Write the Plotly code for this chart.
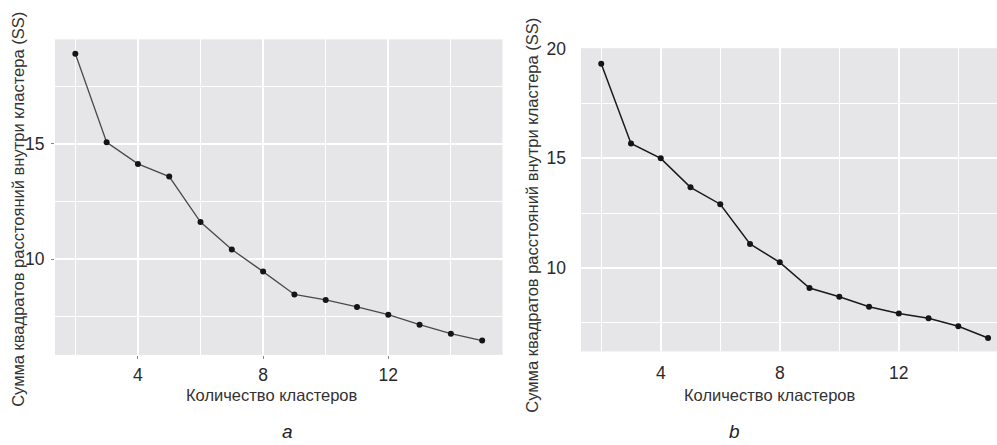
import plotly.graph_objects as go

clusters = list(range(2, 16))
ss_a = [18.91, 15.07, 14.13, 13.58, 11.61, 10.42, 9.46, 8.47, 8.23, 7.93, 7.59, 7.16, 6.77, 6.47]
ss_b = [19.31, 15.68, 15.00, 13.68, 12.91, 11.10, 10.26, 9.09, 8.69, 8.24, 7.93, 7.71, 7.35, 6.81]

x_ticks = [4, 8, 12]
x_minor = [2, 6, 10, 14]
y_ticks_a = [10, 15]
y_ticks_b = [10, 15, 20]
y_minor = [7.5, 12.5, 17.5]

y_title = "Сумма квадратов расстояний внутри кластера (SS)"
x_title = "Количество кластеров"
captions = ["a", "b"]

W, H = 997, 445
FONT = "Liberation Sans, Arial, sans-serif"
BG = "#E6E6E8"

def px(x):
    return x / W

def py(y):
    return 1 - y / H

fig = go.Figure()
fig.add_trace(go.Scatter(x=clusters, y=ss_a, mode="lines+markers",
                         line=dict(color="#4a4a4a", width=1.3),
                         marker=dict(color="#151515", size=6),
                         xaxis="x", yaxis="y", showlegend=False))
fig.add_trace(go.Scatter(x=clusters, y=ss_b, mode="lines+markers",
                         line=dict(color="#1a1a1a", width=1.5),
                         marker=dict(color="#151515", size=6),
                         xaxis="x2", yaxis="y2", showlegend=False))

tickfont = dict(family=FONT, size=17.5, color="#2a2a2a")
grid = dict(showgrid=True, gridcolor="white", gridwidth=1.6, zeroline=False,
            showline=False)
minor_grid = dict(showgrid=True, gridcolor="white", gridwidth=0.8)

fig.update_layout(
    width=W, height=H,
    margin=dict(l=0, r=0, t=0, b=0),
    paper_bgcolor="white",
    plot_bgcolor=BG,
    xaxis=dict(domain=[px(55), px(502.5)], anchor="y", range=[1.35, 15.65],
               tickvals=x_ticks, ticktext=[str(v) for v in x_ticks],
               ticks="outside", ticklen=3, tickcolor="#888",
               tickfont=tickfont, ticklabelstandoff=1,
               minor=dict(tickvals=x_minor, **minor_grid), **grid),
    yaxis=dict(domain=[py(353), py(31)], anchor="x", range=[5.85, 19.53],
               tickvals=y_ticks_a, ticktext=[str(v) for v in y_ticks_a],
               ticks="outside", ticklen=3, tickcolor="#888",
               tickfont=tickfont, ticklabelstandoff=3,
               minor=dict(tickvals=y_minor, **minor_grid), **grid),
    xaxis2=dict(domain=[px(581), 1.0], anchor="y2", range=[1.32, 15.3],
                tickvals=x_ticks, ticktext=[str(v) for v in x_ticks],
                ticks="", tickfont=tickfont, ticklabelstandoff=9,
                minor=dict(tickvals=x_minor, **minor_grid), **grid),
    yaxis2=dict(domain=[py(349.5), py(40)], anchor="x2", range=[6.2, 20.02],
                tickvals=y_ticks_b, ticktext=[str(v) for v in y_ticks_b],
                ticks="", tickfont=tickfont, ticklabelstandoff=14,
                minor=dict(tickvals=y_minor, **minor_grid), **grid),
)

title_font = dict(family=FONT, size=16.5, color="#333")
cap_font = dict(family=FONT, size=19, color="#222")
ann = [
    dict(x=px(18), y=py(205), text=y_title, textangle=-90, font=title_font,
         yanchor="middle"),
    dict(x=px(532), y=py(211), text=y_title, textangle=-90, font=title_font,
         yanchor="middle"),
    dict(x=px(271.5), y=py(394), text=x_title, font=title_font, yanchor="middle"),
    dict(x=px(770), y=py(394), text=x_title, font=title_font, yanchor="middle"),
    dict(x=px(287), y=py(444), text="<i>" + captions[0] + "</i>", font=cap_font,
         yanchor="bottom"),
    dict(x=px(734), y=py(444), text="<i>" + captions[1] + "</i>", font=cap_font,
         yanchor="bottom"),
]
for a in ann:
    fig.add_annotation(xref="paper", yref="paper", showarrow=False,
                       xanchor="center", **a)

fig.write_html("out.html")
